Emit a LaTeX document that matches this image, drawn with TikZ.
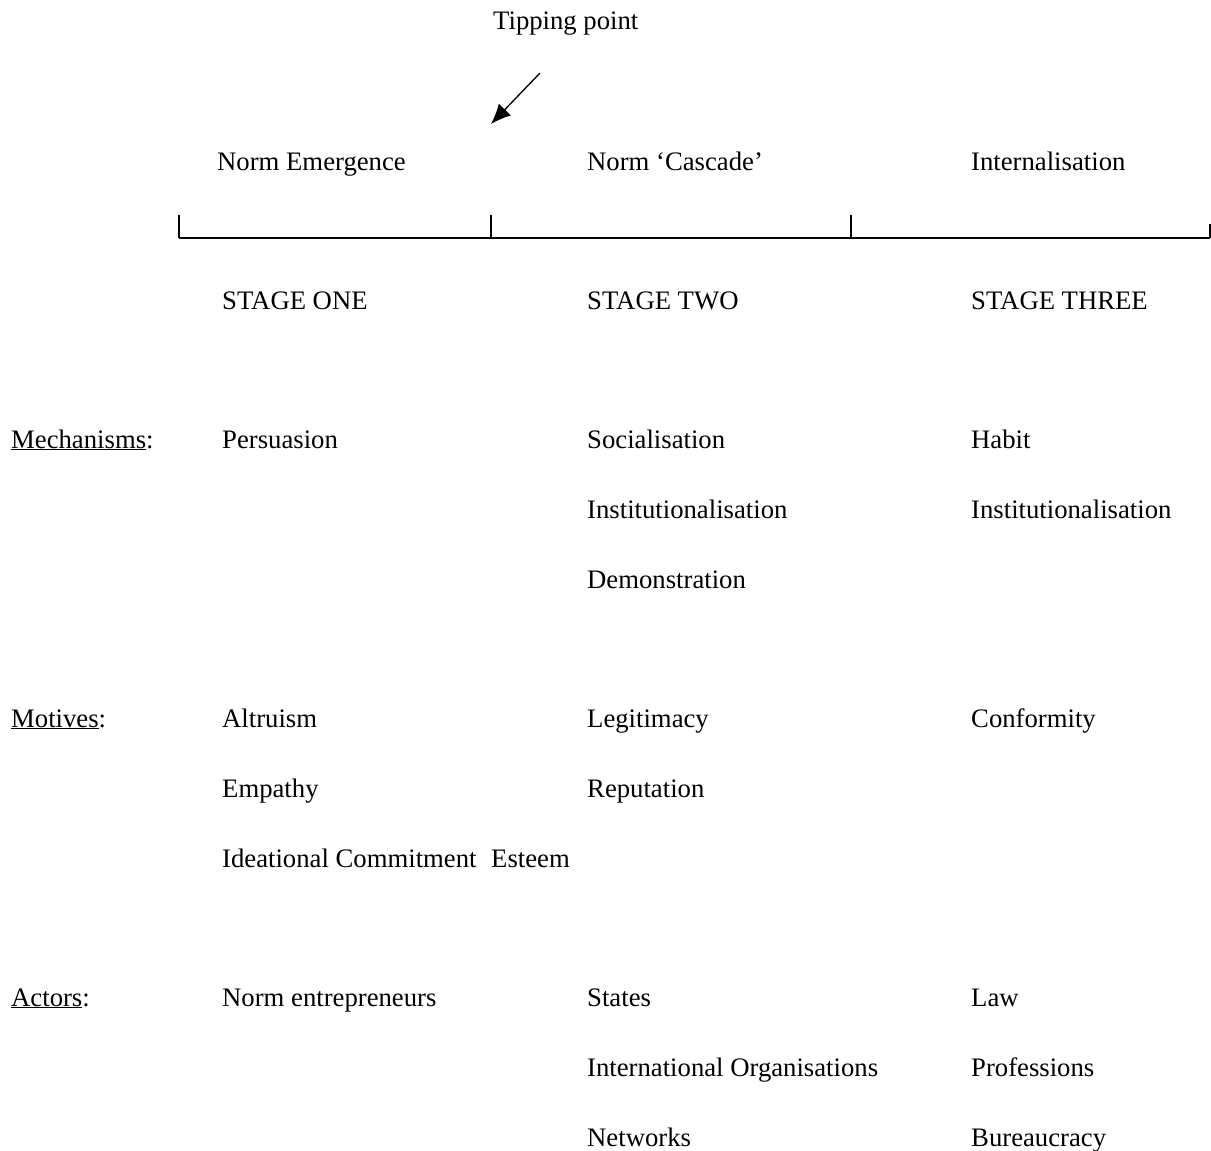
\documentclass[tikz,border=0pt]{standalone}
\usepackage{fontspec}
\setmainfont{Liberation Serif}
\usetikzlibrary{arrows.meta}
\begin{document}
\begin{tikzpicture}[x=1pt,y=-1pt,
  lbl/.style={anchor=base west,inner sep=0pt,font=\fontsize{26.7}{32}\selectfont},
  axis/.style={line width=1.5pt},
  tip/.style={line width=1.3pt,-{Latex[length=20pt,width=17pt]}}]
\useasboundingbox (0,0) rectangle (1211,1151);
% header
\node[lbl] (tp) at (493,29) {Tipping point};
\coordinate (as) at (540,73);
\coordinate (ae) at (491,124);
\draw[tip] (as) -- (ae);
\node[lbl] (h1) at (217,170) {Norm Emergence};
\node[lbl] (h2) at (587,170) {Norm ‘Cascade’};
\node[lbl] (h3) at (971,170) {Internalisation};
% timeline
\coordinate (t0) at (179,238);
\coordinate (t1) at (491,238);
\coordinate (t2) at (851,238);
\coordinate (t3) at (1210,238);
\draw[axis] (t0) -- (t3);
\draw[axis] (t0) -- ++(0,-23);
\draw[axis] (t1) -- ++(0,-23);
\draw[axis] (t2) -- ++(0,-23);
\draw[axis] (t3) -- ++(0,-14);
% stages
\node[lbl] (s1) at (222,309) {STAGE ONE};
\node[lbl] (s2) at (587,309) {STAGE TWO};
\node[lbl] (s3) at (971,309) {STAGE THREE};
% mechanisms
\node[lbl] (mech) at (11,448) {\underline{Mechanisms}:};
\node[lbl] (m11) at (222,448) {Persuasion};
\node[lbl] (m21) at (587,448) {Socialisation};
\node[lbl] (m22) at (587,518) {Institutionalisation};
\node[lbl] (m23) at (587,588) {Demonstration};
\node[lbl] (m31) at (971,448) {Habit};
\node[lbl] (m32) at (971,518) {Institutionalisation};
% motives
\node[lbl] (mot) at (11,727) {\underline{Motives}:};
\node[lbl] (o11) at (222,727) {Altruism};
\node[lbl] (o12) at (222,797) {Empathy};
\node[lbl] (o13) at (222,867) {Ideational Commitment};
\node[lbl] (o24) at (491,867) {Esteem};
\node[lbl] (o21) at (587,727) {Legitimacy};
\node[lbl] (o22) at (587,797) {Reputation};
\node[lbl] (o31) at (971,727) {Conformity};
% actors
\node[lbl] (act) at (11,1006) {\underline{Actors}:};
\node[lbl] (a11) at (222,1006) {Norm entrepreneurs};
\node[lbl] (a21) at (587,1006) {States};
\node[lbl] (a22) at (587,1076) {International Organisations};
\node[lbl] (a23) at (587,1146) {Networks};
\node[lbl] (a31) at (971,1006) {Law};
\node[lbl] (a32) at (971,1076) {Professions};
\node[lbl] (a33) at (971,1146) {Bureaucracy};
\end{tikzpicture}
\end{document}
